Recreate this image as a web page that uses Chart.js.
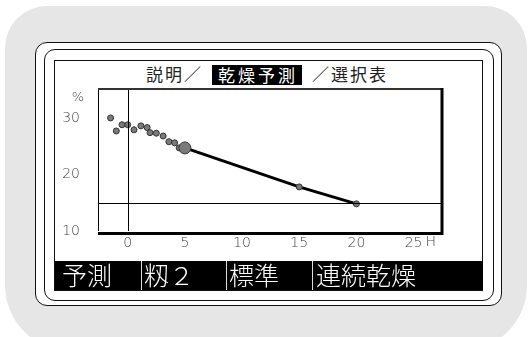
<!DOCTYPE html>
<html>
<head>
<meta charset="utf-8">
<script src="https://cdn.jsdelivr.net/npm/chart.js@4"></script>
<style>
  body { margin: 0; width: 529px; height: 337px; background: #fff; position: relative; overflow: hidden; font-family: "Noto Sans CJK JP", sans-serif; }
  .panel { position: absolute; left: 5px; top: 6px; width: 522px; height: 345px; background: #e6e6e6; border-radius: 42px 42px 66px 66px; }
  .frame1 { position: absolute; left: 35px; top: 42px; width: 465px; height: 262px; border: 1.5px solid #111; border-radius: 12px; background: #fff; }
  .frame2 { position: absolute; left: 44px; top: 49px; width: 448px; height: 250px; border: 1.2px solid #111; border-radius: 11px; }
  .screen { position: absolute; left: 54px; top: 60px; width: 427px; height: 229px; border: 1px solid #111; }
  .title { position: absolute; top: 63px; font-size: 17px; line-height: 22px; letter-spacing: 2px; color: #222; white-space: nowrap; }
  .hl { position: absolute; left: 212px; top: 65px; width: 90px; height: 20px; background: #000; color: #fff; font-size: 17px; line-height: 20px; letter-spacing: 3px; text-indent: 6px; white-space: nowrap; }
  .band { position: absolute; left: 55px; top: 261px; width: 428px; height: 29px; background: #000; }
  .band span { position: absolute; top: -3px; color: #fff; font-size: 25px; line-height: 32px; font-weight: 300; white-space: nowrap; }
  .band i { position: absolute; top: 0; width: 1px; height: 29px; background: #ddd; }
  canvas { position: absolute; left: 54px; top: 60px; }
</style>
</head>
<body>
<div class="panel"></div>
<div class="frame1"></div>
<div class="frame2"></div>
<div class="screen"></div>
<div class="title" style="left:146px">説明／</div>
<div class="hl">乾燥予測</div>
<div class="title" style="left:312px">／選択表</div>
<canvas id="chart" width="428" height="200"></canvas>
<div class="band">
  <span style="left:7px">予測</span>
  <i style="left:86px"></i><span style="left:89px">籾２</span>
  <i style="left:171px"></i><span style="left:174px">標準</span>
  <i style="left:257px"></i><span style="left:261px">連続乾燥</span>
</div>
<script>
// measured moisture readings (hours, %)
const measuredHours = [-1.5, -1.0, -0.5, 0.0, 0.55, 1.15, 1.7, 1.95, 2.5, 3.1, 3.6, 4.1, 4.5];
const measuredMoisture = [30.0, 27.7, 28.8, 28.8, 27.9, 28.6, 28.3, 27.4, 27.3, 26.8, 25.8, 25.6, 24.7];

// current point and prediction
const nowHours = [5];
const nowMoisture = [24.7];
const predHours = [5, 15, 20];
const predMoisture = [24.7, 17.8, 14.8];

const targetMoisture = 15;
const xTicks = [0, 5, 10, 15, 20, 25];
const yTicks = [10, 20, 30];

const toPts = (xs, ys) => xs.map((x, i) => ({ x: x, y: ys[i] }));

const TICK_FONT = { family: "DejaVu Sans, sans-serif", size: 14, weight: "200" };

const framePlugin = {
  id: "frame",
  afterDraw(chart) {
    const { ctx, chartArea: a, scales } = chart;
    ctx.save();
    // reference lines
    ctx.strokeStyle = "#000";
    ctx.lineWidth = 1;
    const x0 = Math.round(scales.x.getPixelForValue(0)) + 0.5;
    const y15 = Math.round(scales.y.getPixelForValue(targetMoisture)) + 0.5;
    ctx.beginPath();
    ctx.moveTo(x0, a.top); ctx.lineTo(x0, a.bottom);
    ctx.moveTo(a.left, y15); ctx.lineTo(a.right, y15);
    ctx.stroke();
    // borders: thin left/top, heavy right/bottom
    ctx.beginPath();
    ctx.moveTo(a.left + 0.5, a.bottom); ctx.lineTo(a.left + 0.5, a.top);
    ctx.stroke();
    ctx.lineWidth = 2;
    ctx.strokeStyle = "#333";
    ctx.beginPath();
    ctx.moveTo(a.left, a.top + 1); ctx.lineTo(a.right, a.top + 1);
    ctx.stroke();
    ctx.lineWidth = 3;
    ctx.strokeStyle = "#000";
    ctx.beginPath();
    ctx.moveTo(a.right + 1, a.top); ctx.lineTo(a.right + 1, a.bottom + 2.5);
    ctx.lineTo(a.left, a.bottom + 2.5);
    ctx.stroke();
    // unit labels
    ctx.fillStyle = "#444";
    ctx.font = "200 13px 'DejaVu Sans', sans-serif";
    ctx.textAlign = "center";
    ctx.textBaseline = "middle";
    ctx.fillText("%", a.left - 20, a.top + 10);
    ctx.font = "200 14px 'DejaVu Sans', sans-serif";
    ctx.textAlign = "left";
    ctx.fillText("H", scales.x.getPixelForValue(25) + 12, a.bottom + 11);
    ctx.restore();
  },
};

new Chart(document.getElementById("chart"), {
  type: "scatter",
  data: {
    datasets: [
      {
        data: toPts(nowHours, nowMoisture),
        pointRadius: 6,
        backgroundColor: "#7a7a7a",
        borderColor: "#333",
        borderWidth: 1,
        order: 0,
      },
      {
        type: "line",
        data: toPts(predHours, predMoisture),
        borderColor: "#000",
        borderWidth: 3,
        pointRadius: [0, 3, 3],
        pointBackgroundColor: "#777",
        pointBorderColor: "#333",
        pointBorderWidth: 1,
        tension: 0,
        order: 1,
      },
      {
        data: toPts(measuredHours, measuredMoisture),
        pointRadius: 3,
        backgroundColor: "#7a7a7a",
        borderColor: "#333",
        borderWidth: 1,
        order: 2,
      },
    ],
  },
  options: {
    responsive: false,
    animation: false,
    layout: { padding: { top: 28, right: 41, left: 0, bottom: 0 } },
    plugins: { legend: { display: false }, tooltip: { enabled: false } },
    scales: {
      x: {
        type: "linear",
        min: -2.6,
        max: 27.4,
        afterBuildTicks: s => { s.ticks = xTicks.map(v => ({ value: v })); },
        afterFit: s => { s.height = 29; },
        grid: { display: false },
        border: { display: false },
        ticks: { color: "#444", font: TICK_FONT, padding: -4, maxRotation: 0 },
      },
      y: {
        min: 10,
        max: 35.3,
        afterBuildTicks: s => { s.ticks = yTicks.map(v => ({ value: v })); },
        afterFit: s => { s.width = 44; },
        grid: { display: false },
        border: { display: false },
        ticks: { color: "#444", font: TICK_FONT, padding: 10 },
      },
    },
  },
  plugins: [framePlugin],
});
</script>
</body>
</html>
